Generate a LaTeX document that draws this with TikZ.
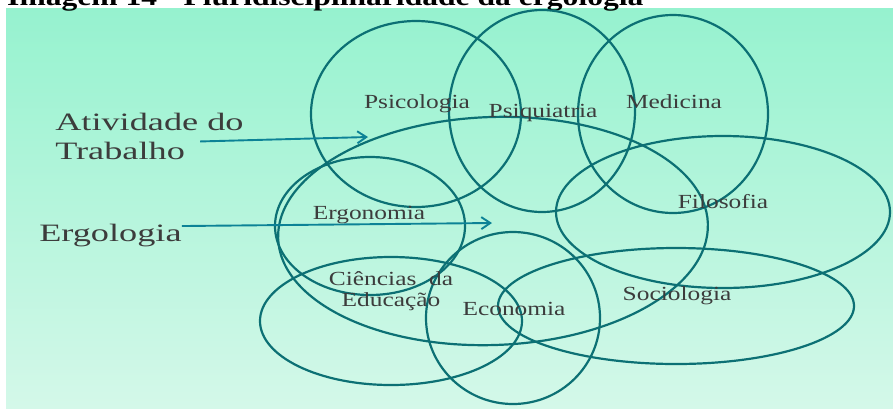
\documentclass[tikz,border=0pt]{standalone}
\usepackage{fontspec}
\setmainfont{Liberation Serif}
\usetikzlibrary{shapes.geometric,arrows.meta}
\definecolor{ringcol}{RGB}{12,112,116}
\definecolor{arrowcol}{RGB}{12,130,150}
\definecolor{labelcol}{RGB}{60,60,60}
\definecolor{bgtop}{RGB}{150,242,207}
\definecolor{bgbot}{RGB}{212,248,233}
\begin{document}
\begin{tikzpicture}[
        x=1pt, y=-1pt,
        ring/.style={ellipse, draw=ringcol, line width=2.2pt, inner sep=0pt},
        field/.style={font=\fontsize{20}{21}\selectfont, text=labelcol, xscale=1.27, align=center, inner sep=0pt, anchor=base},
        side/.style={font=\fontsize{25}{29}\selectfont, text=labelcol, xscale=1.45, inner sep=0pt, anchor=base west},
        arrow/.style={-{Straight Barb[length=9pt,width=12pt]}, draw=arrowcol, line width=1.9pt}
    ]
        \useasboundingbox (0,0) rectangle (893,408);
        \clip (0,0) rectangle (893,408);
        \shade[top color=bgtop, bottom color=bgbot] (6,8) rectangle (893,408);
        \node[anchor=base west, font=\bfseries\fontsize{26}{28}\selectfont, xscale=1.215, inner sep=0pt] (title) at (7,5) {Imagem 14 - Pluridisciplinaridade da ergologia};

        % rings
        \node[ring, minimum width=210pt, minimum height=186pt] (psi) at (416,114) {};
        \node[ring, minimum width=186pt, minimum height=202pt] (psiq) at (542,111) {};
        \node[ring, minimum width=190pt, minimum height=198pt] (med) at (673,114) {};
        \node[ring, minimum width=430pt, minimum height=228pt, rotate=2] (trab) at (493,231) {};
        \node[ring, minimum width=334pt, minimum height=152pt] (filo) at (723,212) {};
        \node[ring, minimum width=190pt, minimum height=138pt] (ergo) at (370,226) {};
        \node[ring, minimum width=262pt, minimum height=128pt] (educ) at (391,321) {};
        \node[ring, minimum width=174pt, minimum height=172pt] (econ) at (513,318) {};
        \node[ring, minimum width=356pt, minimum height=116pt] (soc) at (676,306) {};

        % labels
        \node[field] (psicologia) at (417,108) {Psicologia};
        \node[field] (psiquiatria) at (543,117) {Psiquiatria};
        \node[field] (medicina) at (674,108) {Medicina};
        \node[field] (filosofia) at (723,208) {Filosofia};
        \node[field] (ergonomia) at (369,219) {Ergonomia};
        \node[field] (ciencias) at (391,306) {Ciências\ \ da\\Educação};
        \node[field] (economia) at (514,315) {Economia};
        \node[field] (sociologia) at (677,300) {Sociologia};

        \node[side] (atividade) at (55,130) {Atividade do};
        \node[side] (trabalho) at (55,159) {Trabalho};
        \node[side] (ergologia) at (39,241) {Ergologia};

        \coordinate (trab-tip) at (368,137);
        \coordinate (ergo-tip) at (492,223);
        \draw[arrow] ([xshift=15pt]trabalho.north east) -- (trab-tip);
        \draw[arrow] ([yshift=9pt]ergologia.east) -- (ergo-tip);
    \end{tikzpicture}
\end{document}
